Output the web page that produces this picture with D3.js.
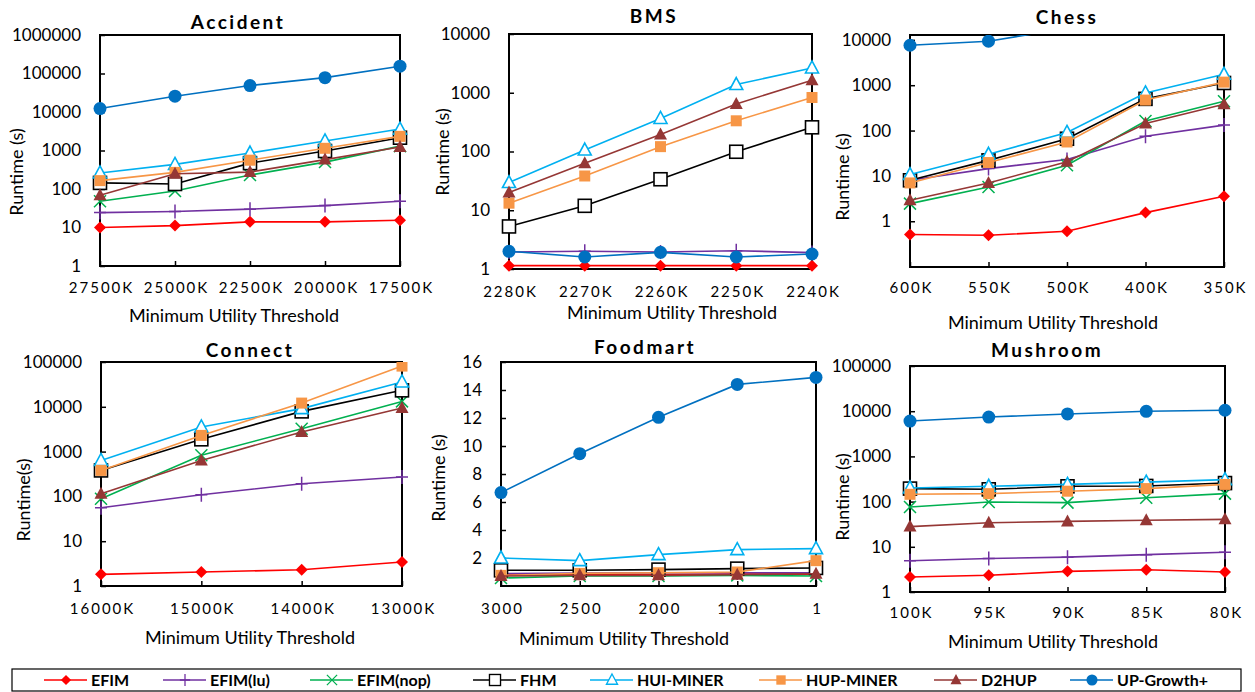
<!DOCTYPE html>
<html>
<head>
<meta charset="utf-8">
<script src="https://cdn.jsdelivr.net/npm/d3@7"></script>
<style>
  body { margin: 0; background: #fff; }
  text { font-family: Lato, "Open Sans", sans-serif; fill: #000; }
</style>
</head>
<body>
<script>
/////////////////////////////// series
const seriesNames = ["EFIM", "EFIM(lu)", "EFIM(nop)", "FHM", "HUI-MINER", "HUP-MINER", "D2HUP", "UP-Growth+"];
const seriesColors = ["#ff0000", "#7030a0", "#00b050", "#000000", "#00b0f0", "#f79646", "#953735", "#0070c0"];
const seriesMarkers = ["diamond", "plus", "cross", "squareOpen", "triangleOpen", "square", "triangle", "circle"];

/////////////////////////////// Accident
const accidentThresholds = ["27500K", "25000K", "22500K", "20000K", "17500K"];
const accidentRuntime = [
  [10, 11.2, 14, 14, 15.4],
  [24.4, 26, 30, 37, 48],
  [48, 89, 230, 500, 1300],
  [144, 135, 470, 970, 2150],
  [261, 437, 860, 1770, 3600],
  [165, 270, 560, 1140, 2330],
  [69, 250, 275, 580, 1230],
  [12300, 25700, 48600, 78000, 155000],
];

/////////////////////////////// BMS
const bmsThresholds = ["2280K", "2270K", "2260K", "2250K", "2240K"];
const bmsRuntime = [
  [1.14, 1.14, 1.14, 1.14, 1.14],
  [1.95, 2.0, 1.95, 2.05, 1.9],
  null,
  [5.3, 11.9, 33.7, 99, 258],
  [29.6, 106, 365, 1380, 2640],
  [13.2, 38.3, 121, 333, 830],
  [20, 63, 195, 645, 1630],
  [2.0, 1.6, 1.92, 1.6, 1.8],
];

/////////////////////////////// Chess
const chessThresholds = ["600K", "550K", "500K", "400K", "350K"];
const chessRuntime = [
  [0.51, 0.49, 0.6, 1.55, 3.55],
  [8, 14.5, 23, 75, 132],
  [2.45, 5.7, 17.2, 163, 445],
  [8, 22, 66, 500, 1120],
  [10.7, 30, 91, 675, 1740],
  [7, 19.7, 56, 470, 1170],
  [2.9, 7, 20.5, 143, 380],
  [7600, 9350, 18000, 60000, 150000],
];

/////////////////////////////// Connect
const connectThresholds = ["16000K", "15000K", "14000K", "13000K"];
const connectRuntime = [
  [1.82, 2.05, 2.3, 3.43],
  [56, 109, 192, 270],
  [89, 830, 3250, 13200],
  [380, 1880, 7900, 23300],
  [635, 3550, 9100, 35800],
  [380, 2300, 12100, 81000],
  [115, 635, 2750, 9400],
  null,
];

/////////////////////////////// Foodmart
const foodmartThresholds = ["3000", "2500", "2000", "1000", "1"];
const foodmartRuntime = [
  [0.8, 0.82, 0.82, 0.85, 0.85],
  [0.88, 0.92, 0.95, 0.95, 0.95],
  [0.57, 0.71, 0.71, 0.76, 0.71],
  [1.12, 1.12, 1.17, 1.24, 1.29],
  [2.0, 1.81, 2.24, 2.6, 2.67],
  [0.76, 0.9, 0.95, 1.0, 1.81],
  [0.71, 0.76, 0.76, 0.81, 0.88],
  [6.67, 9.45, 12.05, 14.4, 14.9],
];

/////////////////////////////// Mushroom
const mushroomThresholds = ["100K", "95K", "90K", "85K", "80K"];
const mushroomRuntime = [
  [2.15, 2.34, 2.86, 3.1, 2.77],
  [4.9, 5.5, 5.9, 6.7, 7.6],
  [76, 98, 95, 122, 150],
  [194, 187, 218, 222, 257],
  [200, 218, 240, 270, 306],
  [145, 150, 170, 194, 240],
  [28, 34, 36.5, 38.6, 40.5],
  [6060, 7430, 8700, 9950, 10500],
];

/////////////////////////////// розкладка панелей
const panels = [
  { title: "Accident", cats: accidentThresholds, values: accidentRuntime, log: true, domain: [1, 1e6], ticks: [1, 10, 100, 1000, 10000, 100000, 1000000],
    box: [100, 35, 400, 266], titlePos: [238, 22], yLabel: "Runtime (s)", yLabelPos: [17, 172], xLabelPos: [234, 316], tickLabelDy: 22 },
  { title: "BMS", cats: bmsThresholds, values: bmsRuntime, log: true, domain: [1, 1e4], ticks: [1, 10, 100, 1000, 10000],
    box: [509, 34, 812, 269], titlePos: [654, 16], yLabel: "Runtime (s)", yLabelPos: [443, 152], xLabelPos: [672, 313], tickLabelDy: 23 },
  { title: "Chess", cats: chessThresholds, values: chessRuntime, log: true, domain: [0.098, 12800], ticks: [1, 10, 100, 1000, 10000],
    box: [910, 35, 1224, 267], titlePos: [1067, 17], yLabel: "Runtime (s)", yLabelPos: [843, 177], xLabelPos: [1053, 323], tickLabelDy: 21 },
  { title: "Connect", cats: connectThresholds, values: connectRuntime, log: true, domain: [1, 1e5], ticks: [1, 10, 100, 1000, 10000, 100000],
    box: [101, 362, 402, 586], titlePos: [250, 350], yLabel: "Runtime(s)", yLabelPos: [24, 500], xLabelPos: [250, 638], tickLabelDy: 23 },
  { title: "Foodmart", cats: foodmartThresholds, values: foodmartRuntime, log: false, domain: [0, 16], ticks: [2, 4, 6, 8, 10, 12, 14, 16],
    box: [501, 362, 816, 586], titlePos: [645, 347], yLabel: "Runtime (s)", yLabelPos: [439, 478], xLabelPos: [624, 639], tickLabelDy: 23 },
  { title: "Mushroom", cats: mushroomThresholds, values: mushroomRuntime, log: true, domain: [1, 1e5], ticks: [1, 10, 100, 1000, 10000, 100000],
    box: [910, 366, 1225, 592], titlePos: [1047, 350], yLabel: "Runtime (s)", yLabelPos: [843, 497], xLabelPos: [1053, 642], tickLabelDy: 21 },
];

let svg = d3.select("body").append("svg").attr("width", 1255).attr("height", 692);

// маркери
function drawMarker(sel, type, color) {
  if (type === "diamond") {
    sel.append("path").attr("d", "M0,-6L6,0L0,6L-6,0Z").attr("fill", color);
  } else if (type === "plus") {
    sel.append("path").attr("d", "M-6,0H6M0,-7V7").attr("stroke", color).attr("stroke-width", 1.5).attr("fill", "none");
  } else if (type === "cross") {
    sel.append("path").attr("d", "M-6,-6L6,6M-6,6L6,-6").attr("stroke", color).attr("stroke-width", 1.5).attr("fill", "none");
  } else if (type === "squareOpen") {
    sel.append("rect").attr("x", -6.5).attr("y", -6.5).attr("width", 13).attr("height", 13)
      .attr("fill", "#fff").attr("stroke", color).attr("stroke-width", 1.6);
  } else if (type === "triangleOpen") {
    sel.append("path").attr("d", "M0,-7L6.5,5L-6.5,5Z").attr("fill", "#fff").attr("stroke", color).attr("stroke-width", 1.6);
  } else if (type === "square") {
    sel.append("rect").attr("x", -5.5).attr("y", -5.5).attr("width", 11).attr("height", 11).attr("fill", color);
  } else if (type === "triangle") {
    sel.append("path").attr("d", "M0,-7L6.5,5L-6.5,5Z").attr("fill", color);
  } else if (type === "circle") {
    sel.append("circle").attr("r", 6.5).attr("fill", color);
  }
}

panels.forEach(function (p, pi) {
  let [x0, y0, x1, y1] = p.box;
  let x = d3.scalePoint().domain(p.cats).range([x0, x1]).padding(0);
  let y = (p.log ? d3.scaleLog() : d3.scaleLinear()).domain(p.domain).range([y1, y0]);

  let g = svg.append("g").attr("class", "panel");

  g.append("clipPath").attr("id", "clip" + pi)
    .append("rect").attr("x", x0 - 8).attr("y", y0).attr("width", x1 - x0 + 16).attr("height", y1 - y0 + 8);

  // осі
  let yAxis = g.append("g").attr("transform", "translate(" + x0 + ",0)")
    .call(d3.axisLeft(y).tickValues(p.ticks).tickFormat(d3.format("d")).tickSize(-5).tickPadding(19));
  yAxis.select(".domain").remove();
  yAxis.selectAll("line").attr("stroke", "#000").attr("stroke-width", 1.5);
  yAxis.selectAll("text").style("font-size", "17px").attr("fill", "#000");

  let xAxis = g.append("g").attr("transform", "translate(0," + y1 + ")")
    .call(d3.axisBottom(x).tickSize(-5));
  xAxis.select(".domain").remove();
  xAxis.selectAll("line").attr("stroke", "#000").attr("stroke-width", 1.5);
  xAxis.selectAll("text").style("font-size", "15px").style("letter-spacing", "2px")
    .attr("y", p.tickLabelDy).attr("dy", "0.35em").attr("dx", 1).attr("fill", "#000");

  // рамка
  g.append("rect").attr("x", x0).attr("y", y0).attr("width", x1 - x0).attr("height", y1 - y0)
    .attr("fill", "none").attr("stroke", "#000").attr("stroke-width", 2);

  // лінії
  let plot = g.append("g").attr("clip-path", "url(#clip" + pi + ")");
  let line = d3.line().x((d, i) => x(p.cats[i])).y((d) => y(d));
  p.values.forEach(function (vals, si) {
    if (!vals) return;
    plot.append("path").datum(vals).attr("d", line)
      .attr("fill", "none").attr("stroke", seriesColors[si]).attr("stroke-width", 1.6);
    vals.forEach(function (v, i) {
      let m = plot.append("g").attr("transform", "translate(" + x(p.cats[i]) + "," + y(v) + ")");
      drawMarker(m, seriesMarkers[si], seriesColors[si]);
    });
  });

  // підписи
  g.append("text").attr("x", p.titlePos[0]).attr("y", p.titlePos[1]).attr("dy", "0.35em")
    .attr("text-anchor", "middle").style("font-size", "19px").style("font-weight", "bold")
    .style("letter-spacing", "2.5px").text(p.title);
  g.append("text").attr("x", p.xLabelPos[0]).attr("y", p.xLabelPos[1]).attr("dy", "0.35em")
    .attr("text-anchor", "middle").style("font-size", "18px").text("Minimum Utility Threshold");
  g.append("text").attr("transform", "translate(" + p.yLabelPos[0] + "," + p.yLabelPos[1] + ") rotate(-90)")
    .attr("dy", "0.35em").attr("text-anchor", "middle").style("font-size", "18px").text(p.yLabel);
});

/////////////////////////////// легенда
const legendX = [44, 163, 310, 473, 590, 759, 934, 1070];
svg.append("rect").attr("x", 12).attr("y", 669).attr("width", 1229).attr("height", 22)
  .attr("fill", "none").attr("stroke", "#000").attr("stroke-width", 1.2);
seriesNames.forEach(function (name, i) {
  let lg = svg.append("g").attr("transform", "translate(" + legendX[i] + ",680)");
  lg.append("line").attr("x1", 0).attr("x2", 43).attr("stroke", seriesColors[i]).attr("stroke-width", 1.6);
  let m = lg.append("g").attr("transform", "translate(22,0) scale(0.85)");
  drawMarker(m, seriesMarkers[i], seriesColors[i]);
  lg.append("text").attr("x", 47).attr("dy", "0.35em").style("font-size", "16px").style("font-weight", "bold").text(name);
});
</script>
</body>
</html>
